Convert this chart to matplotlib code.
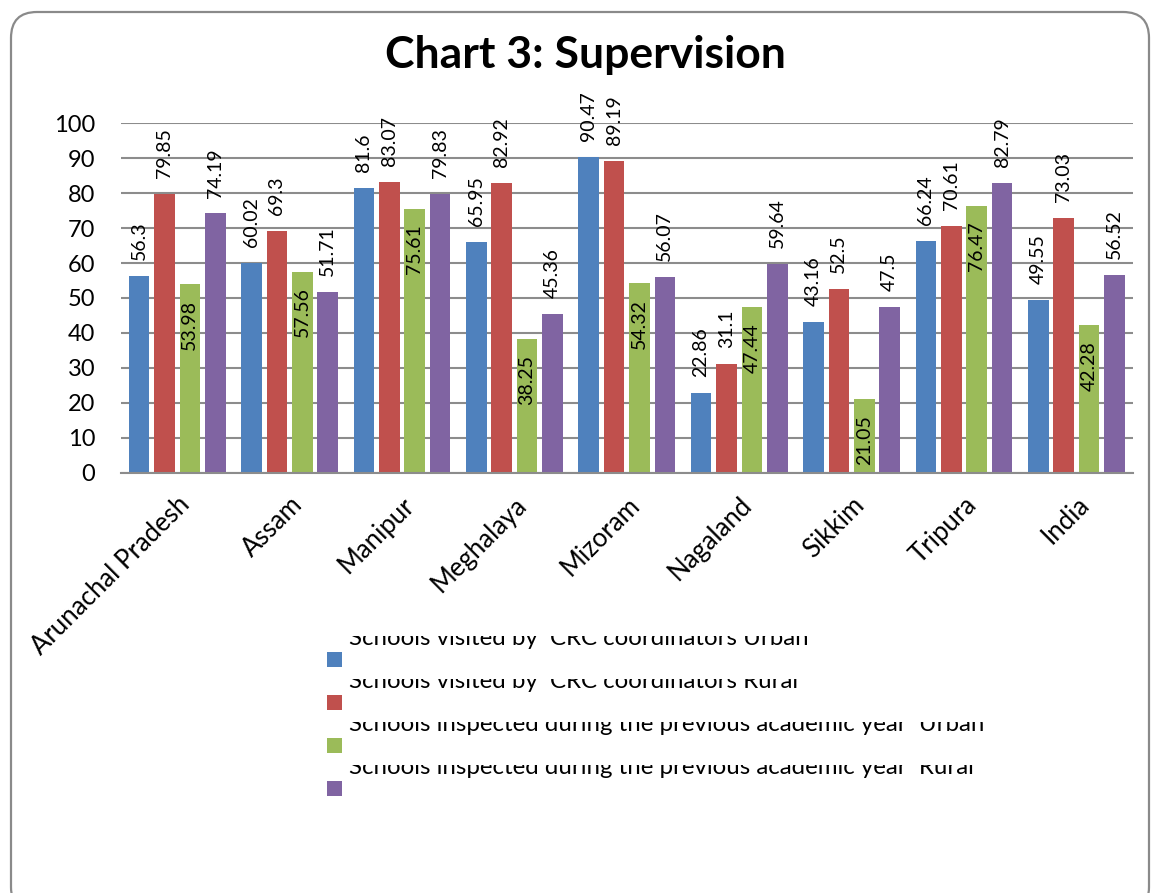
import numpy as np
import matplotlib
matplotlib.use("Agg")
import matplotlib.pyplot as plt
from matplotlib.patches import FancyBboxPatch, Rectangle
from matplotlib.transforms import Bbox

states = ["Arunachal Pradesh", "Assam", "Manipur", "Meghalaya", "Mizoram",
          "Nagaland", "Sikkim", "Tripura", "India"]
crc_urban = [56.3, 60.02, 81.6, 65.95, 90.47, 22.86, 43.16, 66.24, 49.55]
crc_rural = [79.85, 69.3, 83.07, 82.92, 89.19, 31.1, 52.5, 70.61, 73.03]
insp_urban = [53.98, 57.56, 75.61, 38.25, 54.32, 47.44, 21.05, 76.47, 42.28]
insp_rural = [74.19, 51.71, 79.83, 45.36, 56.07, 59.64, 47.5, 82.79, 56.52]
series_names = ["Schools visited by  CRC coordinators Urban",
                "Schools visited by  CRC coordinators Rural",
                "Schools inspected during the previous academic year  Urban",
                "Schools inspected during the previous academic year  Rural"]
colors = ["#4F81BD", "#C0504D", "#9BBB59", "#8064A2"]
yticks = [0, 10, 20, 30, 40, 50, 60, 70, 80, 90, 100]

W, H = 1151, 893
fig = plt.figure(figsize=(W / 100, H / 100), dpi=100)
fnt = "Lato"

# rounded chart border (pixel coords)
border = FancyBboxPatch((11, -20), 1138, 893 - 12 + 20,
                        boxstyle="round,pad=0,rounding_size=26",
                        transform=None, fill=False, edgecolor="#8a8a8a", lw=1.6)
fig.add_artist(border)

ax = fig.add_axes([121 / W, 1 - 472.7 / H, 1011.6 / W, 349.4 / H])
x = np.arange(len(states))
step, bw = 0.226, 0.182
all_series = [crc_urban, crc_rural, insp_urban, insp_rural]
for i, (vals, c) in enumerate(zip(all_series, colors)):
    pos = x + (i - 1.5) * step
    ax.bar(pos, vals, width=bw, color=c, zorder=3)
    for xp, v in zip(pos, vals):
        if i == 2:
            # green series labels sit inside the bar top
            ax.annotate(f"{v:g}", (xp, v), xytext=(0, -11.5), textcoords="offset points",
                        rotation=90, ha="center", va="top", fontsize=14,
                        family=fnt, annotation_clip=False, zorder=5)
        else:
            ax.annotate(f"{v:g}", (xp, v), xytext=(0, 11.5), textcoords="offset points",
                        rotation=90, ha="center", va="bottom", fontsize=14,
                        family=fnt, annotation_clip=False, zorder=5)

ax.set_xlim(-0.5, len(states) - 0.5)
ax.set_ylim(0, 100)
ax.set_yticks(yticks)
ax.set_yticklabels([str(t) for t in yticks], family=fnt, fontsize=17)
ax.yaxis.grid(True, color="#8c8c8c", lw=1.5, zorder=0)
for sp in ax.spines.values():
    sp.set_visible(False)
ax.axhline(0, color="#8c8c8c", lw=1.5, zorder=4, clip_on=False)
ax.tick_params(axis="y", length=0, pad=18.5)
ax.set_xticks(x)
ax.set_xticklabels(states, rotation=45, ha="right", rotation_mode="anchor",
                   family=fnt, fontsize=18.5)
ax.tick_params(axis="x", length=0, pad=14)

fig.text(585 / W, 1 - 68 / H, "Chart 3: Supervision", ha="center", va="baseline",
         family=fnt, fontweight="bold", fontsize=32)

# legend: text clipped along its top, as in the source picture
for i, (name, c) in enumerate(zip(series_names, colors)):
    base = 645 + i * 43
    sq_top = 652 + i * 43
    fig.add_artist(Rectangle((327, H - sq_top - 15), 15, 15, transform=None,
                             facecolor=c, edgecolor="none"))
    t = fig.text(349 / W, 1 - base / H, name, ha="left", va="baseline",
                 family=fnt, fontsize=17.3)
    t.set_clip_on(True)
    t.set_clip_box(Bbox.from_extents(0, 0, W, H - base + 9))

fig.savefig("out.png", dpi=100)
